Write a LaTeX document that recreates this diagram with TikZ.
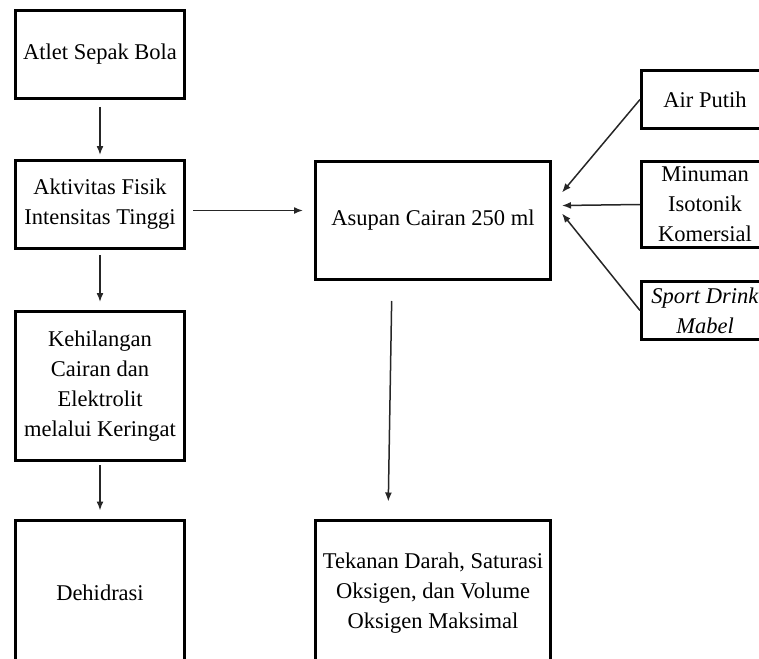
\documentclass[tikz,border=0pt]{standalone}
\usepackage{amssymb}
\usepackage{amsmath}
\usepackage{fontspec}
\setmainfont{Liberation Serif}
\usetikzlibrary{arrows,arrows.meta,shapes}

\begin{document}
\begin{tikzpicture}[x=1pt,y=-1pt,>={Latex[length=9pt,width=7pt]},auto]
  \tikzstyle{box}=[rectangle,draw=black,line width=3pt,align=center,
  		   font=\fontsize{22.5}{30}\selectfont,inner sep=2pt]
  \tikzstyle{side box}=[box,minimum width=127pt]
  \tikzstyle{flow}=[->,draw=black!85,line width=1.5pt]
  \clip (0,0) rectangle (759,658);
  \begin{scope}
    \node [box,minimum width=169pt,minimum height=88pt] (atlet) at (100,54.5) {Atlet Sepak Bola};
    \node [box,minimum width=169pt,minimum height=88pt] (aktivitas) at (100,204.5) {Aktivitas Fisik\\Intensitas Tinggi};
    \node [box,minimum width=169pt,minimum height=149pt] (kehilangan) at (100,386) {Kehilangan\\Cairan dan\\Elektrolit\\melalui Keringat};
    \node [box,minimum width=169pt,minimum height=146pt] (dehidrasi) at (100,593) {Dehidrasi};
  \end{scope}
  \begin{scope}
    \node [box,minimum width=235pt,minimum height=118pt] (asupan) at (433,220.5) {Asupan Cairan 250 ml};
    \node [box,minimum width=235pt,minimum height=146pt] (tekanan) at (433,593) {Tekanan Darah, Saturasi\\Oksigen, dan Volume\\Oksigen Maksimal};
  \end{scope}
  \begin{scope}
    \node [side box,minimum height=58pt] (air) at (705,99.5) {Air Putih};
    \node [side box,minimum height=86pt] (isotonik) at (705,204.5) {Minuman\\Isotonik\\Komersial};
    \node [side box,minimum height=58pt] (mabel) at (705,310.5) {\textit{Sport Drink}\\\textit{Mabel}};
  \end{scope}
  % left column
  \draw [flow,shorten <=7pt,shorten >=4pt] (atlet) -- (aktivitas);
  \draw [flow,shorten <=5pt,shorten >=8pt] (aktivitas) -- (kehilangan);
  \draw [flow,shorten <=3pt,shorten >=8pt] (kehilangan) -- (dehidrasi);
  \draw [flow,shorten <=7pt,shorten >=11pt] ([yshift=-6pt]aktivitas.east) -- ([yshift=-6pt]aktivitas.east -| asupan.west);
  % to the results
  \draw [flow,shorten <=20pt,shorten >=17pt] ([xshift=-41pt]asupan.south) -- ([xshift=-45pt]tekanan.north);
  % drinks
  \draw [flow] (air.west) -- ([shift={(10pt,28pt)}]asupan.east);
  \draw [flow] (isotonik.west) -- ([shift={(10pt,15pt)}]asupan.east);
  \draw [flow] (mabel.west) -- ([shift={(10pt,7pt)}]asupan.east);
\end{tikzpicture}
\end{document}
